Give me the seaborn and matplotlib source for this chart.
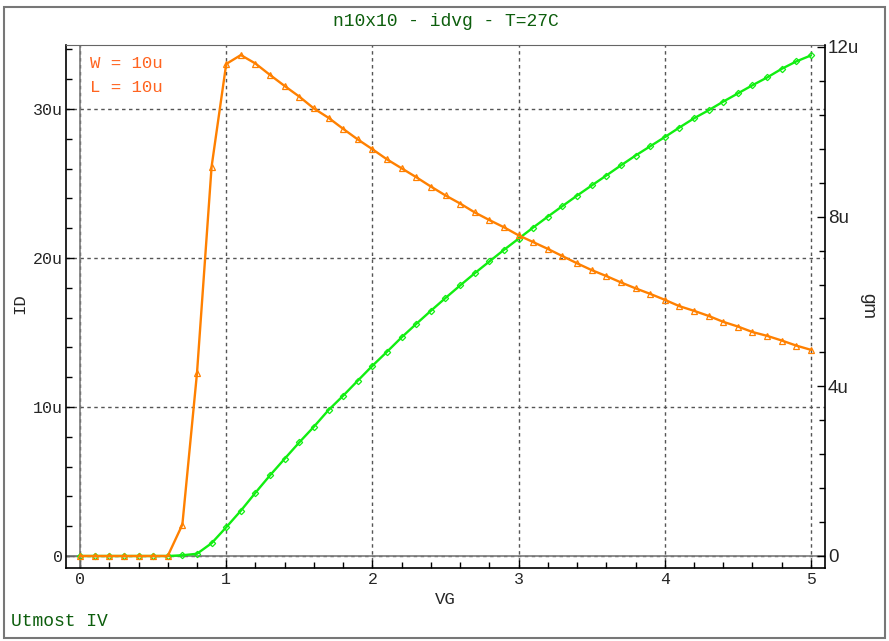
import matplotlib
matplotlib.use("Agg")
import matplotlib.pyplot as plt
from matplotlib.patches import Rectangle
from matplotlib.ticker import MultipleLocator
import numpy as np
import seaborn as sns

# gate voltage sweep, 0 .. 5 V in 0.1 V steps
vg = [round(0.1 * i, 1) for i in range(51)]

# drain current, in uA (left axis)
id_ua = [
    0, 0, 0, 0, 0, 0, 0, 0.05, 0.15, 0.86,
    1.93, 3.04, 4.25, 5.42, 6.53, 7.63, 8.68, 9.80, 10.76, 11.77,
    12.77, 13.71, 14.68, 15.58, 16.46, 17.32, 18.16, 18.98, 19.77, 20.55,
    21.30, 22.05, 22.78, 23.49, 24.19, 24.87, 25.54, 26.22, 26.88, 27.50,
    28.12, 28.76, 29.38, 29.92, 30.50, 31.05, 31.60, 32.12, 32.70, 33.20,
    33.60,
]

# transconductance, in uS (right axis)
gm_us = [
    0, 0, 0, 0, 0, 0, 0, 0.74, 4.31, 9.18,
    11.60, 11.81, 11.61, 11.34, 11.08, 10.83, 10.55, 10.33, 10.07, 9.82,
    9.59, 9.35, 9.14, 8.93, 8.71, 8.50, 8.31, 8.10, 7.92, 7.75,
    7.56, 7.40, 7.24, 7.07, 6.90, 6.74, 6.60, 6.45, 6.31, 6.18,
    6.04, 5.89, 5.78, 5.66, 5.52, 5.41, 5.28, 5.19, 5.08, 4.96,
    4.86,
]

x_ticks = [0, 1, 2, 3, 4, 5]
left_ticks = [0, 10, 20, 30]
left_labels = ["0", "10u", "20u", "30u"]
right_ticks = [0, 4, 8, 12]
right_labels = ["0", "4u", "8u", "12u"]

title = "n10x10 - idvg - T=27C"
green_dark = "#0d5e0d"
id_color = "#11ee11"
gm_color = "#ff8000"
note_color = "#ff6420"

sns.set_style("white")
plt.rcParams["font.family"] = ["Liberation Mono", "DejaVu Sans Mono"]

W, H = 889, 641
fig = plt.figure(figsize=(W / 100, H / 100), dpi=100)
ax = fig.add_axes([66 / W, 1 - 568 / H, (825 - 66) / W, (568 - 45) / H])
ax2 = ax.twinx()

sns.lineplot(x=vg, y=id_ua, ax=ax, color=id_color, linewidth=1.7,
             marker="D", markersize=3.2, markerfacecolor="none",
             markeredgecolor=id_color, markeredgewidth=0.9)
sns.lineplot(x=vg, y=gm_us, ax=ax2, color=gm_color, linewidth=1.7,
             marker="^", markersize=4.2, markerfacecolor="none",
             markeredgecolor=gm_color, markeredgewidth=0.9)

ax.set_xlim(-0.096, 5.096)
ax.set_ylim(-0.805, 34.3)
ax2.set_ylim(-0.283, 12.047)

ax.set_xticks(x_ticks)
ax.set_xticklabels([str(t) for t in x_ticks])
ax.xaxis.set_minor_locator(MultipleLocator(0.2))
ax.set_yticks(left_ticks)
ax.set_yticklabels(left_labels)
ax.yaxis.set_minor_locator(MultipleLocator(2))
ax2.set_yticks(right_ticks)
ax2.set_yticklabels(right_labels, family="Liberation Sans")
ax2.yaxis.set_minor_locator(MultipleLocator(0.8))

for a in (ax, ax2):
    a.tick_params(which="major", direction="in", length=6, width=1,
                  color="black", labelsize=12)
    a.tick_params(which="minor", direction="in", length=4, width=1,
                  color="black")
ax.tick_params(axis="x", which="both", bottom=True, pad=3)
ax.tick_params(axis="y", which="both", left=True, pad=2)
ax2.tick_params(axis="y", which="both", right=True, pad=2, labelsize=13.5)

# dashed grid + solid zero lines
ax.grid(True, which="major", linestyle=(0, (2.5, 2.5)), color="#555555", linewidth=1)
ax.axvline(0, color="#7a7a7a", linewidth=1.2, zorder=1)
ax.axhline(0, color="#7a7a7a", linewidth=1.2, zorder=1)

for s in ("left", "bottom"):
    ax.spines[s].set_color("black")
    ax.spines[s].set_linewidth(1.2)
ax.spines["top"].set_color("#666666")
ax.spines["right"].set_visible(False)
ax2.spines["right"].set_color("black")
ax2.spines["right"].set_linewidth(1.2)
for s in ("left", "bottom", "top"):
    ax2.spines[s].set_visible(False)

ax.set_xlabel("VG", fontsize=12.5)
ax.xaxis.set_label_coords(0.5, (568 - 600) / 523)
ax.xaxis.label.set_va("center")
ax.set_ylabel("ID", fontsize=12.5, rotation=90, ha="center", va="center")
ax.yaxis.set_label_coords((20 - 66) / 759, (568 - 304) / 523)
ax2.set_ylabel("gm", fontsize=13.5, rotation=270, ha="center", va="center",
               family="Liberation Sans")
ax2.yaxis.set_label_coords((868 - 66) / 759, (568 - 306) / 523)

ax.text((90 - 66) / 759, (568 - 64) / 523, "W = 10u", transform=ax.transAxes,
        color=note_color, fontsize=12.5, ha="left", va="center")
ax.text((90 - 66) / 759, (568 - 87) / 523, "L = 10u", transform=ax.transAxes,
        color=note_color, fontsize=12.5, ha="left", va="center")

fig.text(446 / W, 1 - 22 / H, title, ha="center", va="center",
         color=green_dark, fontsize=13)
fig.text(11 / W, 1 - 621 / H, "Utmost IV", ha="left", va="center",
         color=green_dark, fontsize=13)

fig.add_artist(Rectangle((4 / W, 3 / H), 881 / W, 631 / H,
                         transform=fig.transFigure, fill=False,
                         edgecolor="#777777", linewidth=1.5))

fig.savefig("out.png", dpi=100)
